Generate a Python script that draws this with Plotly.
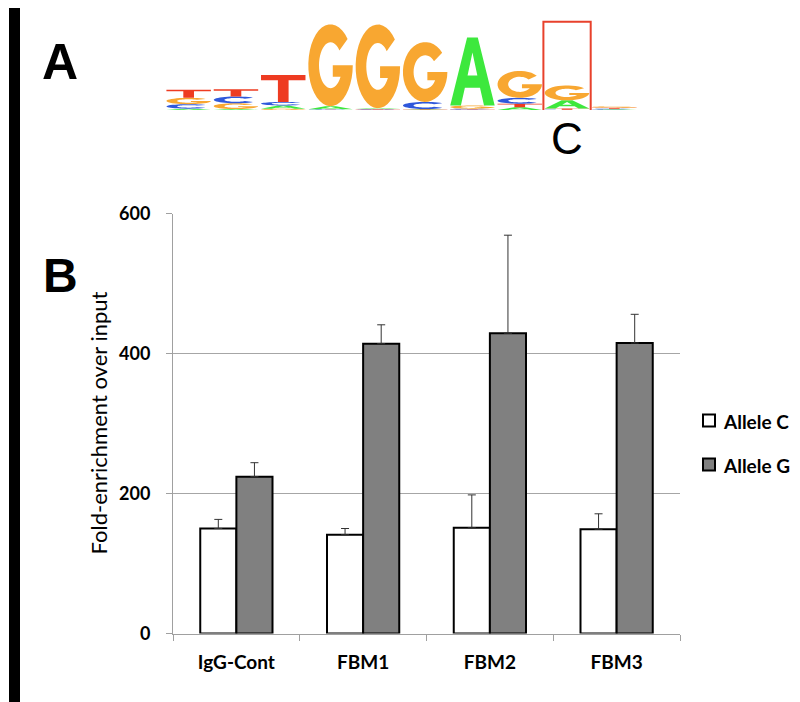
import numpy as np
import plotly.graph_objects as go

# -----------------------------------------------------------------------------
# Data - ChIP fold-enrichment (panel B)
# -----------------------------------------------------------------------------
categories = ["IgG-Cont", "FBM1", "FBM2", "FBM3"]
allele_c = [150, 141, 151, 149]
allele_c_err = [13, 9, 47, 22]
allele_g = [224, 414, 429, 415]
allele_g_err = [20, 27, 140, 41]
series_names = ["Allele C", "Allele G"]
series_colors = ["white", "#808080"]

# -----------------------------------------------------------------------------
# Data - motif logo (panel A), bits per position
# -----------------------------------------------------------------------------
logo_pos = [1, 2, 3, 4, 5, 6, 7, 8, 9, 10]
logo_A = [0.03, 0.02, 0.07, 0.07, 0.02, 0.01, 1.51, 0.06, 0.18, 0.01]
logo_C = [0.10, 0.15, 0.08, 0.01, 0.01, 0.16, 0.02, 0.13, 0.005, 0.02]
logo_G = [0.14, 0.13, 0.03, 1.82, 1.86, 1.33, 0.07, 0.60, 0.33, 0.03]
logo_T = [0.18, 0.16, 0.60, 0.005, 0.01, 0.01, 0.01, 0.08, 0.03, 0.02]
snp_pos = 9
snp_label = "C"

LETTER_COLORS = {"A": "#3de83d", "C": "#2f58db", "G": "#f8a731", "T": "#ee3b21"}

W, H = 800, 702
OFF = 8  # page body margin
FONT = "Lato"


def px(x):
    return (x - OFF) / W


def py(y):
    return 1 - (y - OFF) / H


def arc(cx, cy, rx, ry, a0, a1, n=36):
    t = np.radians(np.linspace(a0, a1, n))
    return list(zip(cx + rx * np.cos(t), cy + ry * np.sin(t)))


# glyph outlines in a unit box, stretched to the letter's height
GLYPHS = {
    "A": [
        [(0, 0), (0.38, 1), (0.62, 1), (1, 0), (0.76, 0), (0.67, 0.26), (0.33, 0.26), (0.24, 0)],
        [(0.39, 0.44), (0.61, 0.44), (0.5, 0.78)],
    ],
    "T": [[(0, 1), (1, 1), (1, 0.8), (0.62, 0.8), (0.62, 0), (0.38, 0), (0.38, 0.8), (0, 0.8)]],
    "C": [arc(0.5, 0.5, 0.5, 0.5, 40, 320) + arc(0.5, 0.5, 0.26, 0.28, 320, 40)],
    "G": [
        arc(0.5, 0.5, 0.5, 0.5, 40, 360)
        + [(0.55, 0.5), (0.55, 0.36)]
        + arc(0.5, 0.5, 0.26, 0.28, 330, 40)
    ],
}


def glyph_path(letter, xc, y0, h, w=0.94):
    parts = []
    for poly in GLYPHS[letter]:
        pts = [f"{xc - w / 2 + gx * w:.4f},{y0 + gy * h:.4f}" for gx, gy in poly]
        parts.append("M " + " L ".join(pts) + " Z")
    return " ".join(parts)


shapes = []
for i, pos in enumerate(logo_pos):
    col = {"A": logo_A[i], "C": logo_C[i], "G": logo_G[i], "T": logo_T[i]}
    base = 0.0
    for letter, h in sorted(col.items(), key=lambda kv: kv[1]):
        shapes.append(dict(
            type="path", xref="x2", yref="y2",
            path=glyph_path(letter, pos, base, h),
            fillcolor=LETTER_COLORS[letter], line=dict(width=0),
        ))
        base += h

# red box around the SNP position
shapes.append(dict(
    type="rect", xref="x2", yref="y2",
    x0=snp_pos - 0.5, x1=snp_pos + 0.5, y0=-0.04, y1=1.96,
    line=dict(color="#e8412c", width=2), fillcolor="rgba(0,0,0,0)",
))

# black bar down the left edge of the figure
shapes.append(dict(
    type="rect", xref="paper", yref="paper",
    x0=px(9), x1=px(20), y0=py(702), y1=py(8),
    fillcolor="black", line=dict(width=0),
))

fig = go.Figure()

fig.add_trace(go.Bar(
    x=categories, y=allele_c, name=series_names[0],
    marker=dict(color=series_colors[0], line=dict(color="black", width=2)),
    error_y=dict(type="data", array=allele_c_err, arrayminus=[0] * 4,
                 color="#333333", thickness=1, width=4),
))
fig.add_trace(go.Bar(
    x=categories, y=allele_g, name=series_names[1],
    marker=dict(color=series_colors[1], line=dict(color="black", width=2)),
    error_y=dict(type="data", array=allele_g_err, arrayminus=[0] * 4,
                 color="#333333", thickness=1, width=4),
))

annotations = [
    dict(text="A", x=px(60), y=py(62), xanchor="center", yanchor="middle",
         xref="paper", yref="paper", showarrow=False,
         font=dict(family="Liberation Sans", size=50, color="black", weight="bold")),
    dict(text="B", x=px(60), y=py(275), xanchor="center", yanchor="middle",
         xref="paper", yref="paper", showarrow=False,
         font=dict(family="Liberation Sans", size=48, color="black", weight="bold")),
    dict(text=snp_label, x=snp_pos, y=py(139), xanchor="center", yanchor="middle",
         xref="x2", yref="paper", showarrow=False,
         font=dict(family="Liberation Sans", size=44, color="black")),
    dict(text="Fold-enrichment over input", x=px(98), y=py(423.5),
         xanchor="center", yanchor="middle", xref="paper", yref="paper",
         showarrow=False, textangle=-90,
         font=dict(family=FONT, size=22, color="black")),
]

# legend drawn by hand (a plotly legend at the right edge would push the margins)
for k, (name, color) in enumerate(zip(series_names, series_colors)):
    yc = 420.5 + 44 * k
    shapes.append(dict(
        type="rect", xref="paper", yref="paper",
        x0=px(703), x1=px(715), y0=py(yc + 6), y1=py(yc - 6),
        fillcolor=color, line=dict(color="black", width=2),
    ))
    annotations.append(dict(
        text=name, x=px(721), y=py(yc + 1), xanchor="left", yanchor="middle",
        xref="paper", yref="paper", showarrow=False,
        font=dict(family=FONT, size=19, color="black", weight="bold"),
    ))

fig.update_layout(
    width=W, height=H,
    margin=dict(l=0, r=0, t=0, b=0, autoexpand=False),
    paper_bgcolor="white", plot_bgcolor="white",
    barmode="group", bargap=0.43, bargroupgap=0,
    showlegend=False,
    xaxis=dict(
        domain=[px(173), px(680)], range=[-0.5, 3.5], automargin=False,
        showline=True, linecolor="#a0a0a0", linewidth=1,
        ticks="outside", tickson="boundaries", ticklen=6, tickcolor="#a0a0a0",
        ticklabelstandoff=12,
        tickfont=dict(family=FONT, size=19, color="black", weight="bold"),
    ),
    yaxis=dict(
        domain=[py(633.5), py(213.5)], range=[0, 600], automargin=False,
        tickvals=[0, 200, 400, 600],
        showgrid=True, gridcolor="#a6a6a6", gridwidth=1,
        showline=True, linecolor="#a0a0a0", linewidth=1,
        ticks="outside", ticklen=6, tickcolor="#a0a0a0",
        ticklabelstandoff=12, zeroline=False,
        tickfont=dict(family=FONT, size=18, color="black", weight="bold"),
    ),
    xaxis2=dict(
        domain=[px(165), px(638)], range=[0.5, 10.5], anchor="y2",
        visible=False, fixedrange=True, automargin=False,
    ),
    yaxis2=dict(
        domain=[py(110), py(20)], range=[0, 2], anchor="x2",
        visible=False, fixedrange=True, automargin=False,
    ),
    shapes=shapes,
    annotations=annotations,
)

# invisible trace so the logo axes exist
fig.add_trace(go.Scatter(x=[1], y=[0], xaxis="x2", yaxis="y2", mode="markers",
                         marker=dict(opacity=0), showlegend=False, hoverinfo="skip"))

fig.write_html("out.html")
